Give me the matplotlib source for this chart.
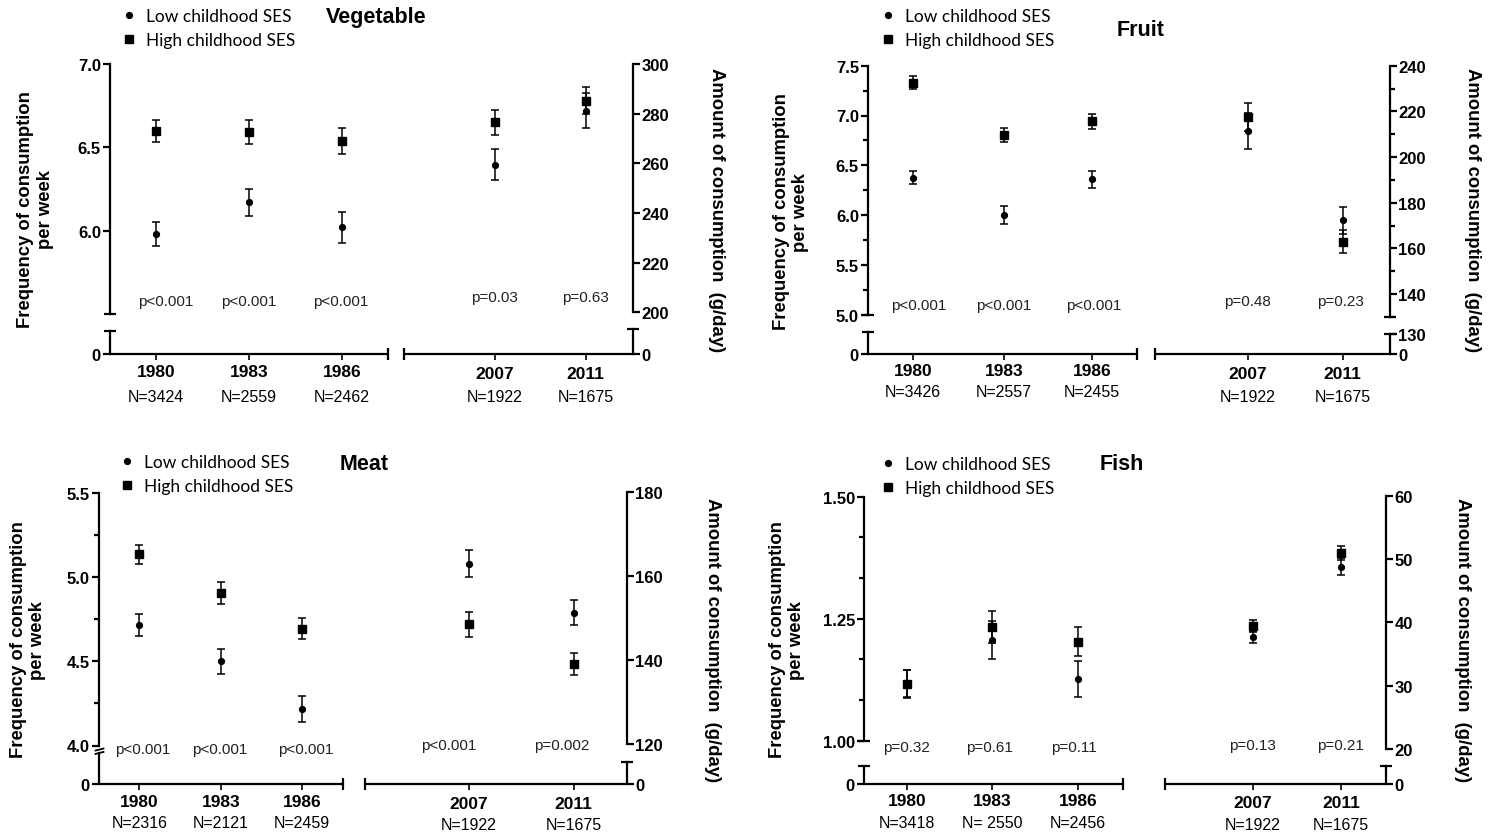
import numpy as np
import matplotlib.pyplot as plt
from matplotlib.lines import Line2D
from matplotlib.path import Path

plt.rcParams['font.family'] = ['Liberation Sans', 'DejaVu Sans']

W, H = 1489, 837

years = ['1980', '1983', '1986', '2007', '2011']
legend_labels = ['Low childhood SES', 'High childhood SES']
left_label = 'Frequency of consumption\nper week'
right_label = 'Amount of consumption  (g/day)'

# Vegetable
veg_n = ['N=3424', 'N=2559', 'N=2462', 'N=1922', 'N=1675']
veg_p = ['p<0.001', 'p<0.001', 'p<0.001', 'p=0.03', 'p=0.63']
veg_low_freq = [5.98, 6.17, 6.02]
veg_low_freq_err = [0.072, 0.083, 0.092]
veg_high_freq = [6.60, 6.595, 6.54]
veg_high_freq_err = [0.066, 0.072, 0.077]
veg_low_amt = [259.5, 281.2]
veg_low_amt_err = [6.4, 7.0]
veg_high_amt = [276.5, 285.2]
veg_high_amt_err = [5.0, 5.5]

# Fruit
fruit_n = ['N=3426', 'N=2557', 'N=2455', 'N=1922', 'N=1675']
fruit_p = ['p<0.001', 'p<0.001', 'p<0.001', 'p=0.48', 'p=0.23']
fruit_low_freq = [6.375, 6.005, 6.36]
fruit_low_freq_err = [0.065, 0.09, 0.085]
fruit_high_freq = [7.33, 6.80, 6.94]
fruit_high_freq_err = [0.062, 0.07, 0.075]
fruit_low_amt = [211.3, 172.3]
fruit_low_amt_err = [7.8, 5.8]
fruit_high_amt = [217.7, 162.9]
fruit_high_amt_err = [6.1, 5.0]

# Meat
meat_n = ['N=2316', 'N=2121', 'N=2459', 'N=1922', 'N=1675']
meat_p = ['p<0.001', 'p<0.001', 'p<0.001', 'p<0.001', 'p=0.002']
meat_low_freq = [4.717, 4.50, 4.218]
meat_low_freq_err = [0.065, 0.076, 0.076]
meat_high_freq = [5.135, 4.905, 4.695]
meat_high_freq_err = [0.058, 0.064, 0.065]
meat_low_amt = [163.0, 151.3]
meat_low_amt_err = [3.3, 3.0]
meat_high_amt = [148.5, 139.0]
meat_high_amt_err = [2.9, 2.6]

# Fish
fish_n = ['N=3418', 'N= 2550', 'N=2456', 'N=1922', 'N=1675']
fish_p = ['p=0.32', 'p=0.61', 'p=0.11', 'p=0.13', 'p=0.21']
fish_low_freq = [1.117, 1.207, 1.126]
fish_low_freq_err = [0.028, 0.039, 0.037]
fish_high_freq = [1.116, 1.233, 1.203]
fish_high_freq_err = [0.029, 0.033, 0.03]
fish_low_amt = [37.7, 48.8]
fish_low_amt_err = [0.9, 1.4]
fish_high_amt = [39.45, 51.0]
fish_high_amt_err = [1.0, 1.1]

# layout in pixels of the 1489x837 canvas (y measured from the top)
veg_lay = dict(
    xl=110, xr=633, xs=[156, 249, 342, 494.5, 585.5], gap=(388, 404),
    top=65, bot=315, zero=355, cap_l=331.7, cap_r=330,
    lref=((7.0, 65), (6.0, 231.7)), rref=((300, 65), (200, 313.3)),
    lb=(5.5, 7.0), rb=(200, 300),
    lmaj=[6.0, 6.5, 7.0], lmin=[], lfmt='{:.1f}',
    rmaj=[200, 220, 240, 260, 280, 300], rmin=[],
    lcap=True, rcap=False, lbreak=None, rlow=['0'],
    px=[166, 249, 341, 494, 585], py=(302, 298), yy=(373, 375), ny=(397, 398),
    title=(376, 17), leg=(146, 29), ylab_l=(35.5, 210), ylab_r=(716, 210),
)
fruit_lay = dict(
    xl=868, xr=1390, xs=[913, 1004, 1092, 1248, 1342.5], gap=(1137, 1155),
    top=66, bot=318, zero=355, cap_l=333.3, cap_r=335,
    lref=((7.5, 66.7), (5.0, 315.7)), rref=((240, 66.7), (140, 295)),
    lb=(5.0, 7.5), rb=(130, 240),
    lmaj=[5.0, 5.5, 6.0, 6.5, 7.0, 7.5], lmin=[5.25, 5.75, 6.25, 6.75, 7.25], lfmt='{:.1f}',
    rmaj=[140, 160, 180, 200, 220, 240], rmin=[130, 150, 170, 190, 210, 230],
    lcap=True, rcap=True, lbreak=None, rlow=['0', '130'],
    px=[919, 1004, 1094, 1247, 1340], py=(306, 302), yy=(372, 375), ny=(393, 397),
    title=(1141, 30), leg=(905, 29), ylab_l=(791, 212), ylab_r=(1472, 210),
)
meat_lay = dict(
    xl=98.5, xr=627, xs=[139.3, 221, 302.2, 468.8, 573.7], gap=(343.3, 364.5),
    top=493, bot=746.5, zero=785, cap_l=754, cap_r=762.7,
    lref=((5.5, 494), (4.0, 746.5)), rref=((180, 493.3), (120, 745)),
    lb=(4.0, 5.5), rb=(120, 180),
    lmaj=[4.0, 4.5, 5.0, 5.5], lmin=[4.25, 4.75, 5.25], lfmt='{:.1f}',
    rmaj=[120, 140, 160, 180], rmin=[],
    lcap=False, rcap=False, lbreak=751, rlow=['0'],
    px=[143, 220, 306, 449, 562], py=(750, 746), yy=(803, 805), ny=(824, 826),
    title=(364, 465), leg=(144, 475), ylab_l=(28, 640), ylab_r=(713, 640),
)
fish_lay = dict(
    xl=864, xr=1386, xs=[907, 992, 1078, 1253, 1341], gap=(1123, 1164.5),
    top=496.7, bot=750, zero=785, cap_l=766.7, cap_r=766.7,
    lref=((1.5, 497.7), (1.0, 741.7)), rref=((60, 496.7), (20, 750)),
    lb=(1.0, 1.5), rb=(20, 60),
    lmaj=[1.0, 1.25, 1.5], lmin=[1 + k / 12 for k in (1, 2, 4, 5)], lfmt='{:.2f}',
    rmaj=[20, 30, 40, 50, 60], rmin=[],
    lcap=True, rcap=False, lbreak=None, rlow=['0'],
    px=[906, 989, 1074, 1252, 1340], py=(748, 746), yy=(802, 804), ny=(824, 826),
    title=(1122, 465), leg=(905, 477), ylab_l=(787, 640), ylab_r=(1463, 640),
)

TICK_FONT = dict(fontweight='bold', fontsize=12)
LW = 1.6


def px_axes(fig, x0, x1, y0, y1):
    return fig.add_axes([x0 / W, 1 - y1 / H, (x1 - x0) / W, (y1 - y0) / H])


def lim_from(ref, top, bot):
    (v1, p1), (v2, p2) = ref
    k = (v1 - v2) / (p1 - p2)
    return v1 + (bot - p1) * k, v1 + (top - p1) * k


def strip(a):
    for s in a.spines.values():
        s.set_visible(False)
    a.patch.set_visible(False)


def ftext(fig, x, y, s, **kw):
    fig.text(x / W, 1 - y / H, s, **kw)


def draw_panel(fig, lay, title, n_lab, p_lab, lo_f, lo_fe, hi_f, hi_fe, lo_a, lo_ae, hi_a, hi_ae):
    xl, xr, xs = lay['xl'], lay['xr'], lay['xs']

    # upper part: frequency (left) and amount (right)
    ax = px_axes(fig, xl, xr, lay['top'], lay['bot'])
    ax.set_xlim(xl, xr)
    ax.set_ylim(*lim_from(lay['lref'], lay['top'], lay['bot']))
    axr = ax.twinx()
    axr.set_ylim(*lim_from(lay['rref'], lay['top'], lay['bot']))
    strip(ax)
    strip(axr)
    ax.set_xticks([])
    ax.spines['left'].set_visible(True)
    ax.spines['left'].set_bounds(*lay['lb'])
    ax.spines['left'].set_linewidth(LW)
    axr.spines['right'].set_visible(True)
    axr.spines['right'].set_bounds(*lay['rb'])
    axr.spines['right'].set_linewidth(LW)

    ax.set_yticks(lay['lmaj'])
    ax.set_yticklabels([lay['lfmt'].format(v) for v in lay['lmaj']], **TICK_FONT)
    ax.set_yticks(lay['lmin'], minor=True)
    ax.tick_params(axis='y', which='major', length=5, width=LW, pad=1.5)
    ax.tick_params(axis='y', which='minor', length=3.5, width=LW)
    axr.set_yticks(lay['rmaj'])
    axr.set_yticklabels([str(v) for v in lay['rmaj']], **TICK_FONT)
    axr.set_yticks(lay['rmin'], minor=True)
    axr.tick_params(axis='y', which='major', length=5, width=LW, pad=1)
    axr.tick_params(axis='y', which='minor', length=3.5, width=LW)

    if lay['lcap']:
        ax.plot([xl], [lay['lb'][0]], marker='_', ms=8, mew=LW, color='k', clip_on=False)
    if lay['rcap']:
        axr.plot([xr], [lay['rb'][0]], marker='_', ms=8, mew=LW, color='k', clip_on=False)
    if lay['lbreak'] is not None:
        lo, hi = lim_from(lay['lref'], lay['top'], lay['bot'])
        k = (hi - lo) / (lay['top'] - lay['bot'])
        yb = lo + (lay['lbreak'] - lay['bot']) * k
        brk = Path([(-1, -0.05), (1, 0.45), (-1, -0.75), (1, -0.25)],
                   [Path.MOVETO, Path.LINETO, Path.MOVETO, Path.LINETO])
        ax.plot([xl], [yb], marker=brk, ms=7, mew=1.3, mfc='none', color='k', clip_on=False)

    eb = dict(color='k', ecolor='k', elinewidth=1.1, capthick=1.1, capsize=3, ls='none')
    ax.errorbar(xs[:3], lo_f, yerr=lo_fe, fmt='o', ms=4.2, **eb)
    ax.errorbar(xs[:3], hi_f, yerr=hi_fe, fmt='s', ms=6.2, **eb)
    axr.errorbar(xs[3:], lo_a, yerr=lo_ae, fmt='o', ms=4.2, **eb)
    axr.errorbar(xs[3:], hi_a, yerr=hi_ae, fmt='s', ms=6.2, **eb)

    # lower part: the zero stub and the broken x axis
    low_top = min(lay['cap_l'], lay['cap_r'])
    hgt = lay['zero'] - low_top
    axb = px_axes(fig, xl, xr, low_top, lay['zero'])
    axb.set_xlim(xl, xr)
    axb.set_ylim(0, hgt)
    axb2 = axb.twinx()
    axb2.set_ylim(0, hgt)
    strip(axb)
    strip(axb2)
    axb.spines['left'].set_visible(True)
    axb.spines['left'].set_bounds(0, lay['zero'] - lay['cap_l'])
    axb.spines['left'].set_linewidth(LW)
    axb2.spines['right'].set_visible(True)
    axb2.spines['right'].set_bounds(0, lay['zero'] - lay['cap_r'])
    axb2.spines['right'].set_linewidth(LW)
    axb.set_yticks([0])
    axb.set_yticklabels(['0'], **TICK_FONT)
    axb.tick_params(axis='y', length=5, width=LW, pad=1.5)
    rt = [0, lay['zero'] - lay['cap_r']][:len(lay['rlow'])]
    axb2.set_yticks(rt)
    axb2.set_yticklabels(lay['rlow'], **TICK_FONT)
    axb2.tick_params(axis='y', length=5, width=LW, pad=1)
    axb.set_xticks(xs)
    axb.tick_params(axis='x', length=4, width=1.2, labelbottom=False)

    g0, g1 = lay['gap']
    axb.plot([xl, g0], [0, 0], color='k', lw=LW, clip_on=False, solid_capstyle='butt')
    axb.plot([g1, xr], [0, 0], color='k', lw=LW, clip_on=False, solid_capstyle='butt')
    axb.plot([g0, g1], [0, 0], ls='none', marker='|', ms=8, mew=LW, color='k', clip_on=False)
    axb.plot([xl], [lay['zero'] - lay['cap_l']], marker='_', ms=8, mew=LW, color='k',
             clip_on=False, alpha=1.0 if lay['lbreak'] is None else 0)
    axb2.plot([xr], [lay['zero'] - lay['cap_r']], marker='_', ms=8, mew=LW, color='k', clip_on=False)

    # year, N and p labels
    for i, x in enumerate(xs):
        side = 0 if i < 3 else 1
        ftext(fig, x, lay['yy'][side], years[i], ha='center', va='center',
              fontweight='bold', fontsize=12.5)
        ftext(fig, x, lay['ny'][side], n_lab[i], ha='center', va='center', fontsize=11.5)
        ftext(fig, lay['px'][i], lay['py'][side], p_lab[i], ha='center', va='center',
              fontsize=11, color='#222222')

    ftext(fig, *lay['title'], title, ha='center', va='center', fontweight='bold', fontsize=15.5)
    ftext(fig, *lay['ylab_l'], left_label, ha='center', va='center', rotation=90,
          fontweight='bold', fontsize=13.3, linespacing=1.2)
    ftext(fig, *lay['ylab_r'], right_label, ha='center', va='center', rotation=-90,
          fontweight='bold', fontsize=13.3)

    handles = [Line2D([], [], ls='none', marker='o', ms=4.2, color='k'),
               Line2D([], [], ls='none', marker='s', ms=6.2, color='k')]
    tx, my = lay['leg']
    fs = 12.5
    fs_px = fs * 100 / 72
    fig.legend(handles, legend_labels, loc='center left',
               bbox_to_anchor=((tx - 1.45 * fs_px) / W, 1 - my / H),
               frameon=False, borderpad=0, borderaxespad=0, handlelength=0.9,
               handletextpad=0.55, labelspacing=0.5,
               prop=dict(family=['Lato', 'DejaVu Sans'], size=fs))


fig = plt.figure(figsize=(W / 100, H / 100), dpi=100)
fig.patch.set_facecolor('white')

draw_panel(fig, veg_lay, 'Vegetable', veg_n, veg_p,
           veg_low_freq, veg_low_freq_err, veg_high_freq, veg_high_freq_err,
           veg_low_amt, veg_low_amt_err, veg_high_amt, veg_high_amt_err)
draw_panel(fig, fruit_lay, 'Fruit', fruit_n, fruit_p,
           fruit_low_freq, fruit_low_freq_err, fruit_high_freq, fruit_high_freq_err,
           fruit_low_amt, fruit_low_amt_err, fruit_high_amt, fruit_high_amt_err)
draw_panel(fig, meat_lay, 'Meat', meat_n, meat_p,
           meat_low_freq, meat_low_freq_err, meat_high_freq, meat_high_freq_err,
           meat_low_amt, meat_low_amt_err, meat_high_amt, meat_high_amt_err)
draw_panel(fig, fish_lay, 'Fish', fish_n, fish_p,
           fish_low_freq, fish_low_freq_err, fish_high_freq, fish_high_freq_err,
           fish_low_amt, fish_low_amt_err, fish_high_amt, fish_high_amt_err)

fig.savefig('out.png', dpi=100)
